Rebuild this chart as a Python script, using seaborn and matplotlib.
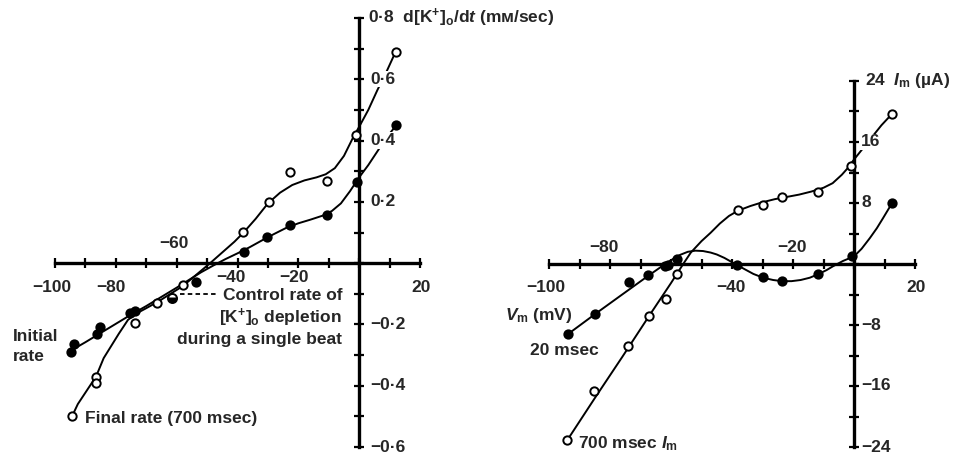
import matplotlib
matplotlib.use("Agg")
import matplotlib.pyplot as plt
import seaborn as sns
import numpy as np

# ---------------- data: left panel (d[K+]o/dt, mM/sec) ----------------
final_x = [12.0, -1.0, -10.5, -22.7, -29.6, -38.2, -57.9, -66.4, -73.7, -86.5, -86.5, -94.4]
final_y = [0.69, 0.417, 0.267, 0.296, 0.199, 0.101, -0.072, -0.13, -0.196, -0.37, -0.39, -0.50]
initial_x = [12.2, -0.7, -10.5, -22.7, -30.3, -37.8, -53.6, -73.7, -75.3, -85.2, -86.2, -93.8, -94.7]
initial_y = [0.45, 0.265, 0.157, 0.124, 0.085, 0.036, -0.062, -0.156, -0.163, -0.21, -0.23, -0.264, -0.29]
control_x = [-61.5]
control_y = [-0.114]

final_curve_x = [-94.4, -92.5, -90.5, -88.5, -86.5, -84, -81.5, -79, -76, -73, -70, -66, -62, -58, -55,
                 -52, -49, -45, -41, -38, -34, -30, -26, -22, -18, -14, -11, -8, -5, -2, 0, 3, 6, 9, 12]
final_curve_y = [-0.50, -0.46, -0.43, -0.40, -0.37, -0.31, -0.27, -0.23, -0.185, -0.163, -0.147, -0.125,
                 -0.10, -0.075, -0.05, -0.025, 0.0, 0.035, 0.07, 0.10, 0.145, 0.195, 0.23, 0.255, 0.27,
                 0.28, 0.29, 0.31, 0.35, 0.41, 0.445, 0.50, 0.565, 0.625, 0.69]
initial_curve_x = [-94.7, -90, -85, -80, -75, -70, -65, -60, -56, -52, -48, -44, -40, -36, -32, -28, -24,
                   -20, -16, -12, -9, -6, -3, 0, 3, 6, 9, 12.2]
initial_curve_y = [-0.285, -0.258, -0.228, -0.198, -0.168, -0.14, -0.11, -0.08, -0.055, -0.03, -0.008,
                   0.013, 0.032, 0.052, 0.074, 0.095, 0.115, 0.13, 0.142, 0.155, 0.17, 0.195, 0.235,
                   0.28, 0.32, 0.365, 0.41, 0.45]

# ---------------- data: right panel (Im, uA) ----------------
im700_x = [12.5, -1.0, -11.8, -23.6, -29.8, -38.0, -58.0, -61.6, -67.2, -74.0, -85.2, -94.0]
im700_y = [19.7, 12.9, 9.5, 8.8, 7.8, 7.1, -1.3, -4.6, -6.8, -10.7, -16.7, -23.1]
im20_x = [12.5, -0.7, -11.8, -23.6, -29.8, -38.4, -58.0, -61.0, -62.0, -67.5, -73.8, -84.9, -93.8]
im20_y = [8.0, 1.05, -1.3, -2.2, -1.7, -0.1, 0.7, -0.1, -0.2, -1.4, -2.4, -6.5, -9.2]

im700_curve_x = [-94, -85, -76, -67, -60, -56, -53.5, -50, -47, -44, -41, -38, -34, -30, -26, -22, -18,
                 -14, -10, -7, -4, -2, 0, 3, 6, 9, 12.5]
im700_curve_y = [-23.1, -17.6, -12.2, -6.7, -2.5, 0.0, 1.5, 3.0, 4.1, 5.3, 6.3, 7.0, 7.6, 8.1, 8.5, 8.8,
                 9.1, 9.5, 10.0, 10.6, 11.7, 12.6, 13.7, 15.2, 16.7, 18.2, 19.7]
im20_curve_x = [-93.8, -85, -76, -68, -63, -60, -57, -54.5, -52, -49.5, -47, -45, -42.5, -40.5, -38.5,
                -36, -33, -29.8, -26.5, -23.6, -20.5, -17.5, -14.5, -11.8, -9, -6.9, -3.6, 0, 2.5,
                5.2, 7.5, 9.5, 11, 12.5]
im20_curve_y = [-9.2, -6.6, -4.0, -1.7, -0.3, 0.5, 1.2, 1.6, 1.75, 1.7, 1.5, 1.25, 0.8, 0.35, -0.1,
                -0.65, -1.3, -1.8, -2.1, -2.25, -2.25, -2.1, -1.8, -1.35, -0.8, -0.3, 0.4, 1.0, 2.0,
                3.4, 4.7, 6.0, 7.0, 8.0]

# tick labels
left_xlabels_low = ["\u2212100", "\u221280", "20"]
left_xlabels_low_pos = [-101, -81.7, 20.4]
left_xlabels_mid = ["\u221240", "\u221220"]
left_xlabels_mid_pos = [-42, -21.4]
left_xlabels_above = ["\u221260"]
left_xlabels_above_pos = [-61]
left_ylabels = ["0·6", "0·4", "0·2", "\u22120·2", "\u22120·4", "\u22120·6"]
left_ylabels_pos = [0.6, 0.4, 0.2, -0.2, -0.4, -0.6]

right_xlabels_below = ["\u2212100", "\u221240", "20"]
right_xlabels_below_pos = [-101, -40.3, 20.3]
right_xlabels_above = ["\u221280", "\u221220"]
right_xlabels_above_pos = [-82, -20.3]
right_ylabels = ["16", "8", "\u22128", "\u221216", "\u221224"]
right_ylabels_pos = [16, 8, -8, -16, -24]

# ---------------- style ----------------
sns.set_style("white")
plt.rcParams["font.family"] = ["Liberation Sans", "DejaVu Sans"]
plt.rcParams["font.weight"] = "bold"
plt.rcParams["mathtext.fontset"] = "custom"
plt.rcParams["mathtext.rm"] = "Liberation Sans:bold"
plt.rcParams["mathtext.it"] = "Liberation Sans:italic:bold"
plt.rcParams["mathtext.bf"] = "Liberation Sans:bold"

FS = 12.5
W, H = 960, 455
fig = plt.figure(figsize=(9.6, 4.55), dpi=100)

axL = fig.add_axes([55 / W, 8 / H, 365 / W, 429 / H])
axR = fig.add_axes([549 / W, 8 / H, 366 / W, 366 / H])


def style_axis(ax, xlim, ylim, yticks):
    ax.set_xlim(*xlim)
    ax.set_ylim(*ylim)
    for s in ["top", "right"]:
        ax.spines[s].set_visible(False)
    ax.spines["left"].set_position(("data", 0))
    ax.spines["bottom"].set_position(("data", 0))
    for s in ["left", "bottom"]:
        ax.spines[s].set_linewidth(2.4)
        ax.spines[s].set_color("black")
    ax.set_xticks(np.arange(-100, 21, 10))
    ax.set_yticks(yticks)
    ax.tick_params(direction="inout", length=7, width=1.6, color="black",
                   labelbottom=False, labelleft=False, bottom=True, left=True)
    ax.set_xlabel("")
    ax.set_ylabel("")
    ax.patch.set_alpha(0)


def draw(ax, cx, cy, px, py, filled):
    sns.lineplot(x=cx, y=cy, sort=False, estimator=None, color="black", lw=1.4, ax=ax, zorder=2)
    sns.scatterplot(x=px, y=py, marker="o", s=36,
                    color=("black" if filled else "white"), edgecolor="black",
                    linewidth=1.4, ax=ax, zorder=4, clip_on=False)


tb = dict(facecolor="white", edgecolor="none", pad=0.5)

# ---------------- left panel ----------------
draw(axL, final_curve_x, final_curve_y, final_x, final_y, filled=False)
draw(axL, initial_curve_x, initial_curve_y, initial_x, initial_y, filled=True)
axL.plot(control_x, control_y, "o", ms=6.5, mfc="black", mec="black", mew=1.4,
         fillstyle="bottom", markerfacecoloralt="white", zorder=5)
style_axis(axL, (-100, 20), (-0.6, 0.8), np.round(np.arange(-0.6, 0.81, 0.1), 2))

for lab, x in zip(left_xlabels_low, left_xlabels_low_pos):
    axL.text(x, -0.08, lab, ha="center", va="center", fontsize=FS, clip_on=False)
for lab, x in zip(left_xlabels_mid, left_xlabels_mid_pos):
    axL.text(x, -0.046, lab, ha="center", va="center", fontsize=FS, clip_on=False)
for lab, x in zip(left_xlabels_above, left_xlabels_above_pos):
    axL.text(x, 0.065, lab, ha="center", va="center", fontsize=FS, clip_on=False)
for lab, y in zip(left_ylabels, left_ylabels_pos):
    axL.text(3.6, y, lab, ha="left", va="center", fontsize=FS, clip_on=False, bbox=tb, zorder=6)
axL.text(3.0, 0.8, "0·8  d[K$^{+}$]$_{\\mathrm{o}}$/d$t$ (mм/sec)", ha="left", va="center",
         fontsize=FS, clip_on=False)

axL.plot([-59, -46.5], [-0.1, -0.1], color="black", lw=1.3, ls=(0, (2.5, 1.8)))
axL.text(-5.6, -0.106, "Control rate of", ha="right", va="center", fontsize=FS)
axL.text(-5.6, -0.178, "[K$^{+}$]$_{\\mathrm{o}}$ depletion", ha="right", va="center", fontsize=FS)
axL.text(-5.6, -0.248, "during a single beat", ha="right", va="center", fontsize=FS)
axL.text(-114, -0.238, "Initial", ha="left", va="center", fontsize=FS, clip_on=False)
axL.text(-114, -0.306, "rate", ha="left", va="center", fontsize=FS, clip_on=False)
axL.text(-90.1, -0.508, "Final rate (700 msec)", ha="left", va="center", fontsize=FS, clip_on=False)

# ---------------- right panel ----------------
draw(axR, im700_curve_x, im700_curve_y, im700_x, im700_y, filled=False)
draw(axR, im20_curve_x, im20_curve_y, im20_x, im20_y, filled=True)
style_axis(axR, (-100, 20), (-24, 24), np.arange(-24, 25, 4))

for lab, x in zip(right_xlabels_below, right_xlabels_below_pos):
    axR.text(x, -3.14, lab, ha="center", va="center", fontsize=FS, clip_on=False)
for lab, x in zip(right_xlabels_above, right_xlabels_above_pos):
    axR.text(x, 2.1, lab, ha="center", va="center", fontsize=FS, clip_on=False)
for lab, y in zip(right_ylabels, right_ylabels_pos):
    axR.text(2.3, y, lab, ha="left", va="center", fontsize=FS, clip_on=False, bbox=tb, zorder=6)
axR.text(3.5, 24, "24  $I_{\\mathrm{m}}$ (µA)", ha="left", va="center", fontsize=FS, clip_on=False)
axR.text(-114.4, -6.7, "$V_{\\mathrm{m}}$ (mV)", ha="left", va="center", fontsize=FS, clip_on=False)
axR.text(-106.2, -11.4, "20 msec", ha="left", va="center", fontsize=FS, clip_on=False)
axR.text(-90.5, -23.6, "700 msec $I_{\\mathrm{m}}$", ha="left", va="center", fontsize=FS, clip_on=False)

fig.savefig("out.png", dpi=100, facecolor="white")
